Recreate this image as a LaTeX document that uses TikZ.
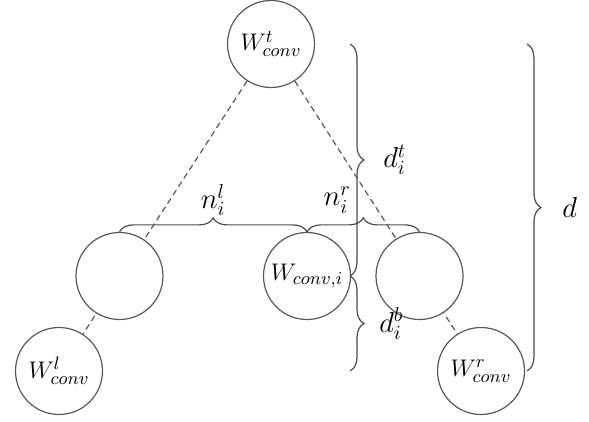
\documentclass[tikz,border=0pt]{standalone}
\usepackage{amsmath,amssymb}
\usetikzlibrary{positioning,calc,decorations.pathreplacing,backgrounds}
\tikzset{
  wnode/.style={circle,draw=black!65,fill=white,line width=0.6pt,minimum size=43.5pt,inner sep=0pt,font=\fontsize{13}{15}\selectfont},
  tline/.style={dashed,dash pattern=on 3pt off 2pt,draw=black!65,line width=0.6pt},
  brc/.style={decorate,decoration={brace,amplitude=7pt},draw=black!70,line width=0.6pt},
  lbl/.style={font=\fontsize{14}{16}\selectfont}
}
\begin{document}
\begin{tikzpicture}[x=0.5pt,y=0.5pt]
  \useasboundingbox (0,0) rectangle (589,422);
  % Tree nodes
  \node[wnode] (top) at (271,378) {$W_{conv}^{t}$};
  \node[wnode] (ml) at (119.5,146) {};
  \node[wnode] (mc) at (307,146) {$W_{conv,i}$};
  \node[wnode] (mr) at (419.5,146) {};
  \node[wnode] (bl) at (59,51) {$W_{conv}^{l}$};
  \node[wnode] (br) at (481,51) {$W_{conv}^{r}$};

  % Dashed edges behind the circles
  \begin{scope}[on background layer]
    \draw[tline] (top) -- (bl);
    \draw[tline] (top) -- (br);
  \end{scope}

  % Brace columns
  \coordinate (bx) at (350,0);
  \coordinate (dx) at (527,0);

  % Horizontal braces
  \draw[brc] (ml.north) -- (mc.north) node[lbl,midway,yshift=16pt] (nl) {$n_i^{l}$};
  \draw[brc] (mc.north) -- (mr.north) node[lbl,midway,yshift=16pt,xshift=-13pt] (nr) {$n_i^{r}$};

  % Vertical braces
  \draw[brc] (bx |- top) -- (bx |- mc) node[lbl,midway,anchor=west,xshift=13pt] (dt) {$d_i^{t}$};
  \draw[brc] (bx |- mc) -- (bx |- br) node[lbl,midway,anchor=west,xshift=11pt] (db) {$d_i^{b}$};
  \draw[brc] (dx |- top) -- (dx |- br) node[lbl,midway,anchor=west,xshift=14pt] (dd) {$d$};
\end{tikzpicture}
\end{document}
